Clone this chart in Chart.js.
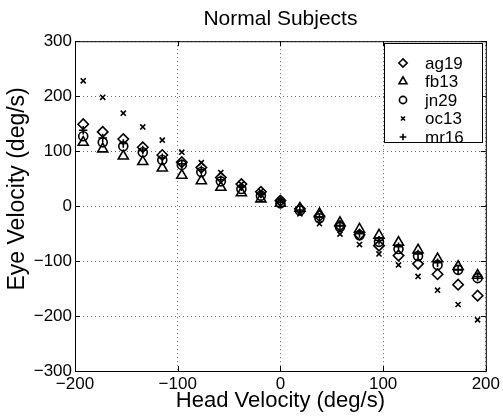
<!DOCTYPE html>
<html>
<head>
<meta charset="utf-8">
<script src="https://cdn.jsdelivr.net/npm/chart.js@4.4.1/dist/chart.umd.min.js"></script>
<style>
	html, body { margin: 0; padding: 0; background: #fff; }
</style>
</head>
<body>
<canvas id="js-vor-chart" width="503" height="416"></canvas>
<script>
// head velocity bins (deg/s)
const headVel = [-192, -173, -153, -134, -115, -96, -77, -58, -38, -19, 0, 19, 38, 58, 77, 96, 115, 134, 153, 173, 192];

// eye velocity per subject (deg/s)
const ag19 = [149, 135, 122, 107, 93, 80, 70, 52, 40, 26, 10, -5, -18, -36, -52, -72, -90, -105, -124, -143, -163];
const fb13 = [116, 104, 91, 81, 69, 56, 46, 34, 24, 13, 5, -4, -14, -30, -42, -53, -66, -80, -96, -110, -126];
const jn29 = [127, 116, 109, 98, 84, 75, 62, 45, 31, 19, 5, -8, -22, -38, -53, -65, -78, -91, -107, -116, -131];
const oc13 = [228, 198, 169, 144, 120, 98, 79, 61, 40, 27, 12, -14, -32, -51, -70, -87, -107, -128, -153, -179, -207];
const mr16 = [138, 124, 114, 102, 88, 77, 66, 48, 35, 22, 7, -7, -20, -36, -50, -62, -74, -87, -103, -116, -128];

const subjects = ['ag19', 'fb13', 'jn29', 'oc13', 'mr16'];
const markers = ['rectRot', 'triangle', 'circle', 'crossRot', 'cross'];
const markerSize = [5.2, 5.8, 4.5, 3.6, 4.2];
const seriesList = [ag19, fb13, jn29, oc13, mr16];

const xTicks = [-200, -100, 0, 100, 200];
const yTicks = [-300, -200, -100, 0, 100, 200, 300];

const fontFamily = '"Liberation Sans", Arial, Helvetica, sans-serif';
const minusLabel = (v) => (v < 0 ? '\u2212' + Math.abs(v) : String(v));

const datasets = seriesList.map((vals, i) => ({
	label: subjects[i],
	data: headVel.map((x, j) => ({ x: x, y: vals[j] })),
	pointStyle: markers[i],
	pointRadius: markerSize[i],
	pointHoverRadius: markerSize[i],
	pointBorderWidth: 1.6,
	borderColor: '#000',
	backgroundColor: 'rgba(0,0,0,0)',
	showLine: false,
}));

// frame box, inward tick marks and the boxed legend, matlab style
const framePlugin = {
	id: 'frame',
	afterLayout(chart) {
		// center the title over the axes, not the canvas
		const t = chart.titleBlock;
		if (t) {
			t.left = chart.chartArea.left;
			t.right = chart.chartArea.right;
			t.width = t.right - t.left;
		}
	},
	afterDraw(chart) {
		const { ctx, chartArea: a, scales } = chart;
		ctx.save();
		ctx.strokeStyle = '#000';
		ctx.lineWidth = 1;
		ctx.strokeRect(a.left + 0.5, a.top + 0.5, a.right - a.left, a.bottom - a.top);
		ctx.beginPath();
		xTicks.forEach((v) => {
			const px = Math.round(scales.x.getPixelForValue(v)) + 0.5;
			ctx.moveTo(px, a.bottom); ctx.lineTo(px, a.bottom - 5);
			ctx.moveTo(px, a.top); ctx.lineTo(px, a.top + 5);
		});
		yTicks.forEach((v) => {
			const py = Math.round(scales.y.getPixelForValue(v)) + 0.5;
			ctx.moveTo(a.left, py); ctx.lineTo(a.left + 5, py);
			ctx.moveTo(a.right, py); ctx.lineTo(a.right - 5, py);
		});
		ctx.stroke();

		// legend
		const lx = 384, ly = 43, lw = 98, lh = 99;
		ctx.fillStyle = '#fff';
		ctx.fillRect(lx, ly, lw, lh);
		ctx.strokeRect(lx + 0.5, ly + 0.5, lw, lh);
		ctx.font = '17px ' + fontFamily;
		ctx.textBaseline = 'middle';
		ctx.textAlign = 'left';
		chart.data.datasets.forEach((ds, i) => {
			const y = ly + 20 + i * 18.5;
			ctx.strokeStyle = '#000';
			ctx.fillStyle = 'rgba(0,0,0,0)';
			ctx.lineWidth = 1.6;
			Chart.helpers.drawPoint(ctx, {
				pointStyle: ds.pointStyle,
				radius: ds.pointRadius * 0.8,
				borderWidth: 1.6,
				rotation: 0,
			}, lx + 19, y);
			ctx.fillStyle = '#000';
			ctx.fillText(ds.label, lx + 41, y + 1);
		});
		ctx.restore();
	},
};

const ctx = document.getElementById('js-vor-chart');
const vorChart = new Chart(ctx, {
	type: 'scatter',
	data: { datasets: datasets },
	options: {
		responsive: false,
		animation: false,
		layout: { padding: { left: 2, right: 16, top: 0, bottom: 0 } },
		plugins: {
			legend: { display: false },
			tooltip: { enabled: false },
			title: {
				display: true,
				text: 'Normal Subjects',
				color: '#000',
				font: { family: fontFamily, size: 21, weight: 'normal' },
				padding: { top: 7, bottom: 9 },
			},
		},
		scales: {
			x: {
				type: 'linear',
				min: -200,
				max: 200,
				afterFit: (s) => { s.height = 45; },
				afterBuildTicks: (s) => { s.ticks = xTicks.map((v) => ({ value: v })); },
				ticks: {
					color: '#000',
					padding: 3,
					maxRotation: 0,
					font: { family: fontFamily, size: 17 },
					callback: minusLabel,
				},
				grid: { color: 'rgba(0,0,0,0.6)', drawTicks: false, lineWidth: 1 },
				border: { display: false, dash: [1, 3] },
				title: {
					display: true,
					text: 'Head Velocity (deg/s)',
					color: '#000',
					font: { family: fontFamily, size: 22 },
					padding: { top: 0, bottom: 2 },
				},
			},
			y: {
				type: 'linear',
				min: -300,
				max: 300,
				afterFit: (s) => { s.width = 73; },
				afterBuildTicks: (s) => { s.ticks = yTicks.map((v) => ({ value: v })); },
				ticks: {
					color: '#000',
					padding: 3,
					font: { family: fontFamily, size: 17 },
					callback: minusLabel,
				},
				grid: { color: 'rgba(0,0,0,0.6)', drawTicks: false, lineWidth: 1 },
				border: { display: false, dash: [1, 3] },
				title: {
					display: true,
					text: '\u2002\u2002\u2002Eye Velocity (deg/s)',
					color: '#000',
					font: { family: fontFamily, size: 23 },
					padding: { top: 2, bottom: 0 },
				},
			},
		},
	},
	plugins: [framePlugin],
});
</script>
</body>
</html>
